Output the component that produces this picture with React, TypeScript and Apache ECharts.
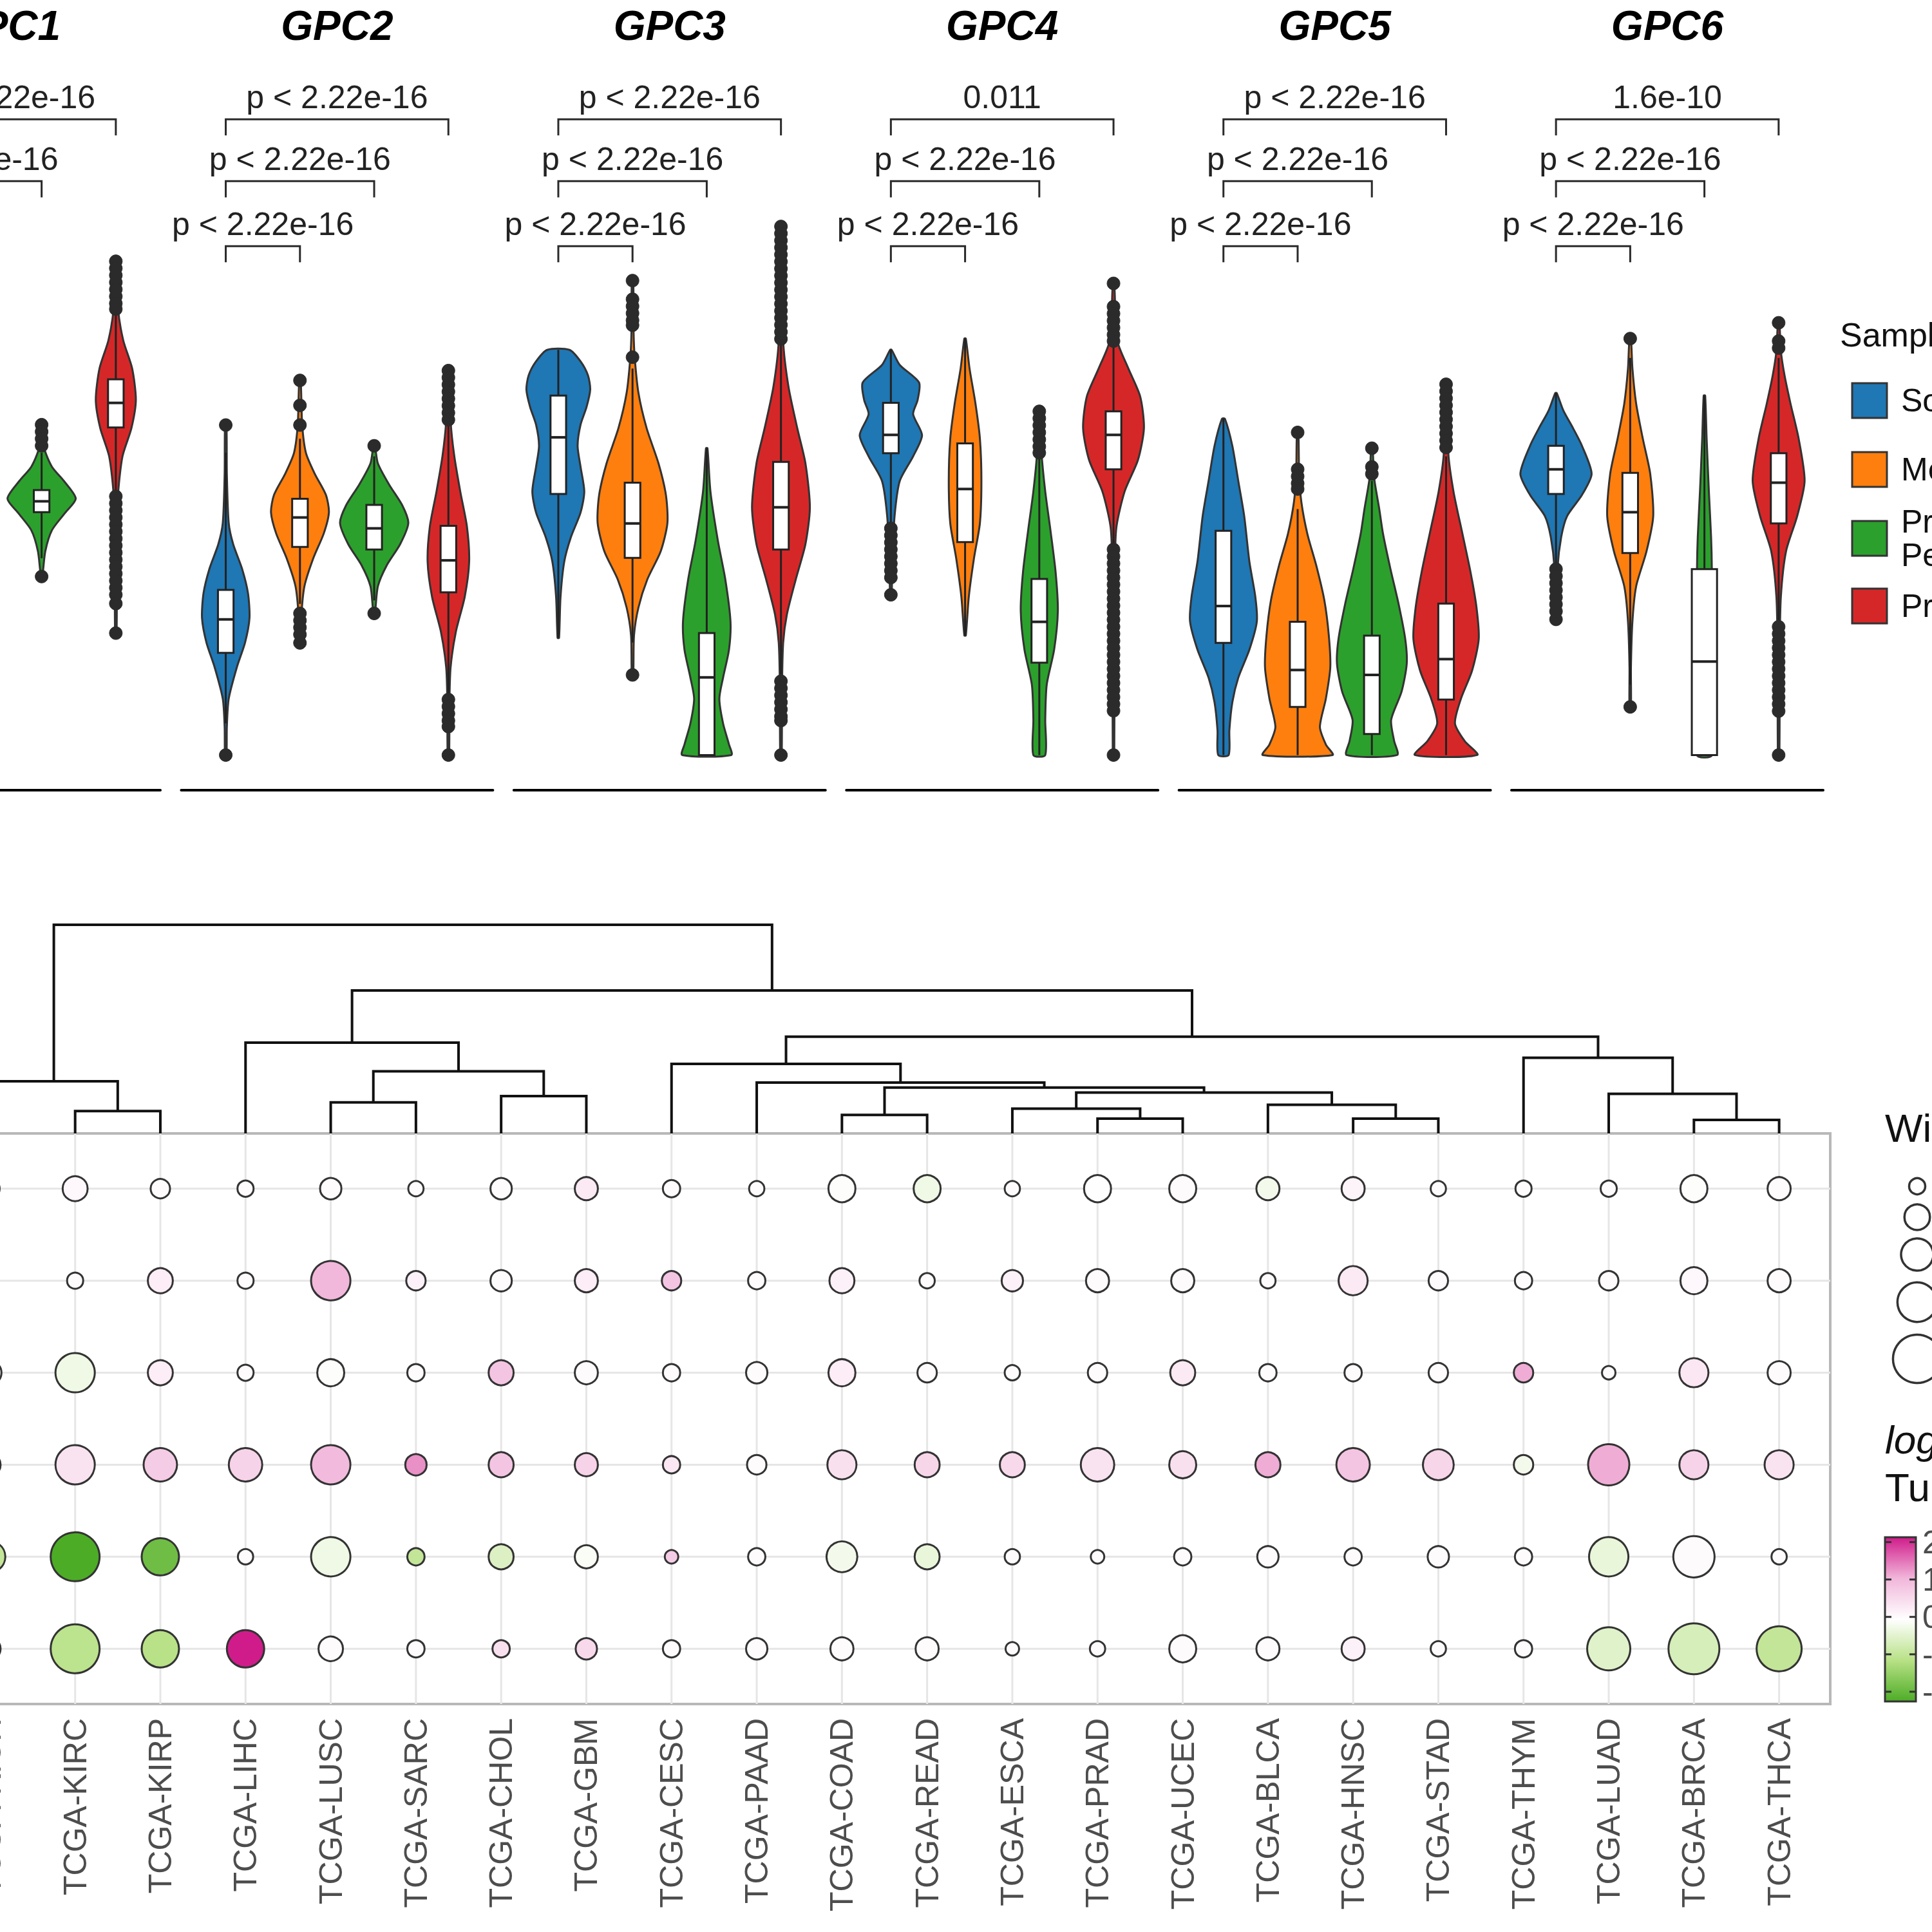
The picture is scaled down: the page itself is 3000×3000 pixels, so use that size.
import React, { useEffect, useRef } from 'react';
import * as echarts from 'echarts';

const FONT = '"Liberation Sans", Arial, Helvetica, sans-serif';

// ---------------- Violin panel data ----------------
const GENES = ['GPC1', 'GPC2', 'GPC3', 'GPC4', 'GPC5', 'GPC6'];
const SAMPLE_TYPES = ['Solid Tissue Normal', 'Metastatic', 'Primary Blood Derived Cancer -\nPeripheral Blood', 'Primary Tumor'];
const SAMPLE_COLORS = ['#1F77B4', '#FF7F0E', '#2CA02C', '#D62728'];

// density profiles: [expression, half width] from max to min, one per sample type
const GPC1_DENSITY = [
  [[9.5, 0.01], [8.8, 0.06], [8.0, 0.2], [7.2, 0.33], [6.4, 0.38], [5.6, 0.3], [4.8, 0.14], [4.0, 0.05], [3.0, 0.01]],
  [[10.5, 0.01], [9.8, 0.04], [9.0, 0.14], [8.2, 0.28], [7.6, 0.3], [6.8, 0.2], [6.0, 0.08], [5.0, 0.01]],
  [[9.4, 0.01], [8.7, 0.04], [8.2, 0.14], [7.8, 0.3], [7.3, 0.46], [6.9, 0.32], [6.4, 0.14], [5.8, 0.05], [5.1, 0.01]],
  [[14.05, 0.01], [12.7, 0.03], [11.8, 0.1], [11.0, 0.22], [10.1, 0.27], [9.3, 0.21], [8.5, 0.09], [7.4, 0.03], [5.5, 0.015], [3.47, 0.01]],
];
const GPC2_DENSITY = [
  [[9.39, 0.01], [8.0, 0.015], [6.6, 0.04], [6.0, 0.1], [5.3, 0.22], [4.6, 0.3], [3.9, 0.32], [3.2, 0.26], [2.5, 0.15], [1.6, 0.04], [0.8, 0.015], [0, 0.01]],
  [[10.66, 0.01], [9.4, 0.03], [8.6, 0.08], [8.0, 0.2], [7.4, 0.35], [6.9, 0.39], [6.3, 0.32], [5.6, 0.18], [4.8, 0.06], [4.0, 0.02], [3.19, 0.01]],
  [[8.8, 0.01], [8.3, 0.05], [7.7, 0.2], [7.1, 0.38], [6.6, 0.46], [6.0, 0.35], [5.4, 0.17], [4.8, 0.05], [4.03, 0.01]],
  [[10.94, 0.01], [9.5, 0.03], [8.5, 0.08], [7.5, 0.16], [6.5, 0.25], [5.5, 0.28], [4.5, 0.22], [3.5, 0.1], [2.5, 0.03], [1.6, 0.015], [0, 0.01]],
];
const GPC3_DENSITY = [
  [[11.53, 0.15], [11.2, 0.3], [10.8, 0.4], [10.4, 0.43], [9.9, 0.38], [9.4, 0.3], [8.8, 0.26], [8.2, 0.3], [7.5, 0.35], [6.9, 0.3], [6.2, 0.17], [5.5, 0.08], [4.5, 0.03], [3.33, 0.01]],
  [[13.5, 0.01], [12.0, 0.015], [11.3, 0.03], [10.3, 0.08], [9.3, 0.19], [8.3, 0.35], [7.4, 0.45], [6.6, 0.47], [5.8, 0.38], [5.0, 0.2], [4.2, 0.08], [3.4, 0.02], [2.28, 0.01]],
  [[8.73, 0.01], [7.5, 0.05], [6.1, 0.15], [5.0, 0.25], [3.8, 0.32], [3.0, 0.3], [2.2, 0.22], [1.6, 0.17], [0.9, 0.22], [0.3, 0.3], [0, 0.33]],
  [[15.04, 0.01], [11.8, 0.03], [10.5, 0.1], [9.3, 0.22], [8.3, 0.33], [7.05, 0.39], [6.0, 0.33], [5.0, 0.2], [4.0, 0.08], [3.2, 0.03], [2.0, 0.015], [0, 0.01]],
];
const GPC4_DENSITY = [
  [[11.53, 0.01], [11.1, 0.12], [10.6, 0.38], [10.1, 0.36], [9.7, 0.3], [9.1, 0.42], [8.5, 0.3], [7.8, 0.12], [6.8, 0.05], [5.5, 0.02], [4.56, 0.01]],
  [[11.85, 0.01], [11.0, 0.06], [10.0, 0.14], [9.0, 0.2], [7.8, 0.22], [6.6, 0.2], [5.6, 0.12], [4.5, 0.05], [3.4, 0.01]],
  [[9.78, 0.01], [8.6, 0.03], [7.5, 0.08], [6.4, 0.15], [5.2, 0.22], [4.1, 0.25], [3.0, 0.2], [2.0, 0.1], [1.0, 0.08], [0, 0.08]],
  [[13.42, 0.01], [11.8, 0.05], [11.0, 0.2], [10.2, 0.36], [9.3, 0.41], [8.4, 0.33], [7.5, 0.15], [6.5, 0.04], [5.5, 0.02], [0, 0.01]],
];
const GPC5_DENSITY = [
  [[9.57, 0.02], [8.8, 0.12], [7.8, 0.2], [6.8, 0.28], [5.5, 0.35], [4.5, 0.43], [3.8, 0.45], [3.0, 0.35], [2.2, 0.2], [1.5, 0.12], [0.7, 0.08], [0, 0.07]],
  [[9.18, 0.01], [8.0, 0.02], [7.2, 0.05], [6.3, 0.13], [5.4, 0.25], [4.4, 0.36], [3.4, 0.42], [2.5, 0.44], [1.6, 0.38], [0.8, 0.3], [0.3, 0.38], [0, 0.47]],
  [[8.73, 0.01], [7.9, 0.03], [7.0, 0.1], [6.3, 0.15], [5.3, 0.25], [4.3, 0.36], [3.3, 0.45], [2.6, 0.47], [1.8, 0.4], [1.0, 0.26], [0.4, 0.3], [0, 0.34]],
  [[10.55, 0.01], [8.6, 0.03], [7.5, 0.1], [6.3, 0.22], [5.2, 0.33], [4.2, 0.41], [3.3, 0.44], [2.4, 0.35], [1.6, 0.2], [0.9, 0.12], [0.4, 0.25], [0, 0.42]],
];
const GPC6_DENSITY = [
  [[10.3, 0.01], [9.8, 0.1], [9.3, 0.23], [8.8, 0.35], [8.0, 0.48], [7.4, 0.35], [6.8, 0.15], [6.2, 0.07], [5.3, 0.02], [3.86, 0.01]],
  [[11.85, 0.01], [11.0, 0.03], [10.0, 0.08], [9.0, 0.17], [8.0, 0.27], [6.8, 0.31], [5.8, 0.22], [4.8, 0.08], [3.8, 0.03], [2.5, 0.01], [1.37, 0.01]],
  [[10.23, 0.01], [9.0, 0.03], [7.5, 0.06], [6.2, 0.09], [5.29, 0.1], [3.0, 0.1], [0, 0.1]],
  [[12.3, 0.01], [11.5, 0.03], [10.8, 0.08], [10.0, 0.16], [9.0, 0.27], [7.8, 0.35], [6.8, 0.25], [5.8, 0.1], [4.5, 0.03], [3.0, 0.015], [0, 0.01]],
];

// boxplot stats: [lower whisker, q1, median, q3, upper whisker]
const GPC1_BOX = [[4.2, 5.8, 6.4, 7.0, 8.8], [6.0, 7.2, 7.8, 8.4, 9.8], [5.6, 6.91, 7.22, 7.54, 8.6], [7.4, 9.32, 10.02, 10.69, 12.7]];
const GPC2_BOX = [[0.9, 2.91, 3.86, 4.7, 8.6], [4.3, 5.92, 6.76, 7.29, 9.0], [4.4, 5.85, 6.45, 7.12, 8.5], [1.7, 4.63, 5.54, 6.52, 9.4]];
const GPC3_BOX = [[3.33, 7.43, 9.04, 10.23, 11.53], [3.2, 5.61, 6.59, 7.75, 11.0], [0, 0, 2.21, 3.47, 8.73], [2.3, 5.85, 7.05, 8.34, 11.7]];
const GPC4_BOX = [[6.6, 8.59, 9.11, 10.02, 11.53], [3.4, 6.06, 7.57, 8.87, 11.85], [0, 2.63, 3.79, 5.01, 8.5], [6.0, 8.13, 9.11, 9.78, 11.7]];
const GPC5_BOX = [[0, 3.19, 4.24, 6.38, 9.57], [0, 1.37, 2.42, 3.79, 7.0], [0, 0.6, 2.28, 3.4, 7.8], [0, 1.58, 2.73, 4.31, 8.5]];
const GPC6_BOX = [[5.4, 7.43, 8.13, 8.8, 10.3], [2.0, 5.75, 6.91, 8.03, 11.3], [0, 0, 2.66, 5.29, 10.23], [3.8, 6.59, 7.75, 8.59, 11.3]];

const GPC1_OUT = [
  [9.2, 9.5, 3.5, 3.0],
  [10.2, 10.5, 5.3, 5.0],
  [9.4, 9.2, 9.0, 8.8, 5.08],
  [14.05, 13.85, 13.65, 13.45, 13.25, 13.05, 12.85, 12.69, 7.36, 7.16, 6.96, 6.76, 6.56, 6.36, 6.16, 5.96, 5.76, 5.56, 5.36, 5.16, 4.96, 4.76, 4.56, 4.31, 3.47],
];
const GPC2_OUT = [
  [9.39, 0],
  [10.66, 9.95, 9.39, 4.03, 3.83, 3.63, 3.43, 3.19],
  [8.8, 4.03],
  [10.94, 10.74, 10.54, 10.34, 10.14, 9.94, 9.74, 9.54, 1.58, 1.38, 1.18, 0.98, 0.81, 0],
];
const GPC3_OUT = [
  [],
  [13.5, 12.97, 12.77, 12.57, 12.37, 12.23, 11.32, 2.28],
  [],
  [15.04, 14.84, 14.64, 14.44, 14.24, 14.04, 13.84, 13.64, 13.44, 13.24, 13.04, 12.84, 12.64, 12.44, 12.24, 12.04, 11.84, 2.1, 1.9, 1.7, 1.5, 1.3, 1.1, 0.98, 0],
];
const GPC4_OUT = [
  [6.45, 6.25, 6.05, 5.85, 5.65, 5.45, 5.25, 5.05, 4.56],
  [],
  [9.78, 9.58, 9.38, 9.18, 8.98, 8.78, 8.6],
  [13.42, 12.76, 12.56, 12.36, 12.16, 11.96, 11.78, 5.85, 5.65, 5.45, 5.25, 5.05, 4.85, 4.65, 4.45, 4.25, 4.05, 3.85, 3.65, 3.45, 3.25, 3.05, 2.85, 2.65, 2.45, 2.25, 2.05, 1.85, 1.65, 1.45, 1.26, 0],
];
const GPC5_OUT = [
  [],
  [9.18, 8.13, 7.93, 7.73, 7.57],
  [8.73, 8.2, 8.0],
  [10.55, 10.35, 10.15, 9.95, 9.75, 9.55, 9.35, 9.15, 8.95, 8.75],
];
const GPC6_OUT = [
  [5.29, 5.09, 4.89, 4.69, 4.49, 4.29, 4.09, 3.86],
  [11.85, 1.37],
  [],
  [12.3, 11.78, 11.58, 3.65, 3.45, 3.25, 3.05, 2.85, 2.65, 2.45, 2.25, 2.05, 1.85, 1.65, 1.45, 1.25, 0],
];

const DENSITY = [GPC1_DENSITY, GPC2_DENSITY, GPC3_DENSITY, GPC4_DENSITY, GPC5_DENSITY, GPC6_DENSITY];
const BOXES = [GPC1_BOX, GPC2_BOX, GPC3_BOX, GPC4_BOX, GPC5_BOX, GPC6_BOX];
const OUTLIERS = [GPC1_OUT, GPC2_OUT, GPC3_OUT, GPC4_OUT, GPC5_OUT, GPC6_OUT];

// comparisons (Solid Tissue Normal vs others), bracket heights and p labels
const BRACKET_PAIRS = [[1, 2], [1, 3], [1, 4]];
const BRACKET_Y = [14.48, 16.33, 18.09];
const P_GPC1 = ['0.0021', 'p < 2.22e-16', 'p < 2.22e-16'];
const P_GPC2 = ['p < 2.22e-16', 'p < 2.22e-16', 'p < 2.22e-16'];
const P_GPC3 = ['p < 2.22e-16', 'p < 2.22e-16', 'p < 2.22e-16'];
const P_GPC4 = ['p < 2.22e-16', 'p < 2.22e-16', '0.011'];
const P_GPC5 = ['p < 2.22e-16', 'p < 2.22e-16', 'p < 2.22e-16'];
const P_GPC6 = ['p < 2.22e-16', 'p < 2.22e-16', '1.6e-10'];
const P_LABELS = [P_GPC1, P_GPC2, P_GPC3, P_GPC4, P_GPC5, P_GPC6];

// ---------------- Dot plot data ----------------
const CANCERS = ['TCGA-KICH', 'TCGA-KIRC', 'TCGA-KIRP', 'TCGA-LIHC', 'TCGA-LUSC', 'TCGA-SARC', 'TCGA-CHOL', 'TCGA-GBM', 'TCGA-CESC', 'TCGA-PAAD', 'TCGA-COAD', 'TCGA-READ', 'TCGA-ESCA', 'TCGA-PRAD', 'TCGA-UCEC', 'TCGA-BLCA', 'TCGA-HNSC', 'TCGA-STAD', 'TCGA-THYM', 'TCGA-LUAD', 'TCGA-BRCA', 'TCGA-THCA'];
const DOT_GENES = ['GPC6', 'GPC2', 'GPC4', 'GPC1', 'GPC5', 'GPC3'];

// Wilcoxon -log10(p) per cancer
const SIG_GPC6 = [29, 48, 29, 20, 35, 18, 35, 41, 23, 18, 56, 56, 18, 56, 56, 41, 41, 18, 20, 20, 56, 41];
const SIG_GPC2 = [18, 20, 48, 20, 119, 29, 35, 41, 29, 23, 48, 18, 35, 41, 41, 18, 65, 29, 23, 29, 56, 41];
const SIG_GPC4 = [41, 119, 48, 20, 56, 23, 48, 41, 23, 35, 56, 29, 18, 29, 48, 23, 23, 29, 29, 14, 65, 41];
const SIG_GPC1 = [35, 119, 86, 86, 119, 35, 48, 41, 23, 29, 65, 48, 48, 86, 56, 48, 86, 73, 29, 131, 65, 65];
const SIG_GPC5 = [73, 184, 107, 18, 119, 23, 48, 41, 14, 23, 73, 48, 18, 14, 23, 35, 23, 35, 23, 119, 131, 18];
const SIG_GPC3 = [35, 184, 107, 107, 46, 23, 23, 35, 23, 35, 41, 41, 14, 18, 56, 41, 41, 18, 23, 143, 199, 156];
// log2 fold change tumour vs normal
const FC_GPC6 = [0, 0.05, 0, 0, 0, 0, 0, 0.25, 0, 0, -0.1, -0.3, 0, -0.05, 0, -0.25, 0.1, 0, 0, 0, -0.1, 0];
const FC_GPC2 = [0, 0, 0.2, 0, 1.0, 0.15, 0, 0.2, 0.8, 0, 0.15, 0, 0.15, 0, 0, 0, 0.25, 0, 0, 0, 0.05, 0];
const FC_GPC4 = [-0.1, -0.3, 0.2, 0, -0.1, 0, 0.8, 0, 0, 0, 0.2, 0, 0, 0, 0.25, 0, 0, 0, 1.1, 0, 0.3, 0];
const FC_GPC1 = [0.5, 0.35, 0.7, 0.6, 0.95, 1.3, 0.8, 0.6, 0.3, 0, 0.4, 0.55, 0.5, 0.35, 0.4, 1.1, 0.8, 0.55, -0.25, 1.1, 0.6, 0.35];
const FC_GPC5 = [-1.0, -2.26, -1.9, 0, -0.3, -1.0, -0.6, -0.15, 0.7, 0, -0.25, -0.4, 0, 0, 0, 0, 0, 0, 0, -0.4, 0, 0];
const FC_GPC3 = [-0.3, -1.1, -1.15, 2.13, 0, 0, 0.4, 0.5, 0, 0, 0, 0, 0, 0, 0, 0, 0.15, 0, 0, -0.55, -0.7, -1.0];
const SIG_ROWS = [SIG_GPC6, SIG_GPC2, SIG_GPC4, SIG_GPC1, SIG_GPC5, SIG_GPC3];
const FC_ROWS = [FC_GPC6, FC_GPC2, FC_GPC4, FC_GPC1, FC_GPC5, FC_GPC3];

const FC_MIN = -2.26;
const FC_MAX = 2.13;
const FC_COLORS = ['#4DAC26', '#B8E186', '#FFFFFF', '#F1B6DA', '#D01C8B'];
const FC_BREAKS = [2, 1, 0, -1, -2];
const SIZE_BREAKS = [20, 50, 80, 120, 180];

// hierarchical clustering of cancers: [left, right, height]; numbers refer to earlier merges
const DENDRO_MERGES: [string | number, string | number, number][] = [
  ['TCGA-KIRC', 'TCGA-KIRP', 1.07],
  ['TCGA-KICH', 0, 2.5],
  ['TCGA-LUSC', 'TCGA-SARC', 1.49],
  ['TCGA-CHOL', 'TCGA-GBM', 1.79],
  [2, 3, 2.98],
  ['TCGA-LIHC', 4, 4.35],
  ['TCGA-COAD', 'TCGA-READ', 0.89],
  ['TCGA-PRAD', 'TCGA-UCEC', 0.71],
  ['TCGA-ESCA', 7, 1.19],
  ['TCGA-HNSC', 'TCGA-STAD', 0.71],
  ['TCGA-BLCA', 9, 1.37],
  [8, 10, 1.96],
  [6, 11, 2.2],
  ['TCGA-PAAD', 12, 2.44],
  ['TCGA-CESC', 13, 3.33],
  ['TCGA-BRCA', 'TCGA-THCA', 0.65],
  ['TCGA-LUAD', 15, 1.9],
  ['TCGA-THYM', 16, 3.63],
  [14, 17, 4.64],
  [5, 18, 6.85],
  [1, 19, 10.0],
];

// ---------------- Layout ----------------
const OFF = 300;
const CANVAS_W = 3700;
const FACET_LEFT0 = 65;
const FACET_STEP = 516.4;
const FACET_W = 484;
const FACET_TOP = 81;
const FACET_H = 1146;
const DOT_LEFT = 205;
const DOT_W = 2937;

const sizeOf = (s: number) => 5.6 * Math.sqrt(s);

function dendroLines() {
  const pos: { x: number; h: number }[] = [];
  const get = (c: string | number) => (typeof c === 'number' ? pos[c] : { x: CANCERS.indexOf(c), h: 0 });
  return DENDRO_MERGES.map(([a, b, h], i) => {
    const A = get(a);
    const B = get(b);
    pos[i] = { x: (A.x + B.x) / 2, h };
    return { coords: [[A.x, A.h], [A.x, h], [B.x, h], [B.x, B.h]] };
  });
}

function violinRender(g: number) {
  return (params: any, api: any) => {
    const t = params.dataIndex;
    const cx = t + 1;
    const prof = DENSITY[g][t];
    const pts: number[][] = [];
    prof.forEach(([v, w]) => pts.push(api.coord([cx + w, v])));
    for (let k = prof.length - 1; k >= 0; k--) {
      const [v, w] = prof[k];
      pts.push(api.coord([cx - w, v]));
    }
    const [lo, q1, med, q3, hi] = BOXES[g][t];
    const bw = g === 5 && t === 2 ? 0.17 : 0.105;
    const tl = api.coord([cx - bw, q3]);
    const br = api.coord([cx + bw, q1]);
    const top = api.coord([cx, hi]);
    const bot = api.coord([cx, lo]);
    const m1 = api.coord([cx - bw, med]);
    const m2 = api.coord([cx + bw, med]);
    const children: any[] = [
      { type: 'polygon', shape: { points: pts, smooth: 0.25 }, style: { fill: SAMPLE_COLORS[t], stroke: '#333', lineWidth: 3 } },
      { type: 'line', shape: { x1: top[0], y1: top[1], x2: bot[0], y2: bot[1] }, style: { stroke: '#222', lineWidth: 3 } },
      { type: 'rect', shape: { x: tl[0], y: tl[1], width: br[0] - tl[0], height: br[1] - tl[1] }, style: { fill: '#fff', stroke: '#222', lineWidth: 3 } },
      { type: 'line', shape: { x1: m1[0], y1: m1[1], x2: m2[0], y2: m2[1] }, style: { stroke: '#222', lineWidth: 4 } },
    ];
    OUTLIERS[g][t].forEach((v) => {
      const p = api.coord([cx, v]);
      children.push({ type: 'circle', shape: { cx: p[0], cy: p[1], r: 10 }, style: { fill: '#2b2b2b', stroke: '#2b2b2b', lineWidth: 1 } });
    });
    return { type: 'group', children };
  };
}

function bracketRender(g: number) {
  return (params: any, api: any) => {
    const i = params.dataIndex;
    const [a, b] = BRACKET_PAIRS[i];
    const y = BRACKET_Y[i];
    const p1 = api.coord([a, y - 0.46]);
    const p2 = api.coord([a, y]);
    const p3 = api.coord([b, y]);
    const p4 = api.coord([b, y - 0.46]);
    const lab = api.coord([(a + b) / 2, y + 0.62]);
    return {
      type: 'group',
      children: [
        { type: 'polyline', shape: { points: [p1, p2, p3, p4] }, style: { stroke: '#2a2a2a', lineWidth: 3, fill: 'none' } },
        { type: 'text', x: lab[0], y: lab[1], style: { text: P_LABELS[g][i], fontSize: 50, fontFamily: FONT, fill: '#222', align: 'center', verticalAlign: 'middle' } },
      ],
    };
  };
}

function gridLinesRender(params: any, api: any) {
  const children: any[] = [];
  CANCERS.forEach((_, i) => {
    const a = api.coord([i, -0.6]);
    const b = api.coord([i, DOT_GENES.length - 0.4]);
    children.push({ type: 'line', shape: { x1: a[0], y1: a[1], x2: b[0], y2: b[1] }, style: { stroke: '#e6e6e6', lineWidth: 3 } });
  });
  DOT_GENES.forEach((_, j) => {
    const a = api.coord([-0.6, j]);
    const b = api.coord([CANCERS.length - 0.4, j]);
    children.push({ type: 'line', shape: { x1: a[0], y1: a[1], x2: b[0], y2: b[1] }, style: { stroke: '#e6e6e6', lineWidth: 3 } });
  });
  return { type: 'group', children };
}

function buildOption(): any {
  const grid: any[] = [
    ...GENES.map((_, i) => ({ left: FACET_LEFT0 + FACET_STEP * i, top: FACET_TOP, width: FACET_W, height: FACET_H })),
    { left: DOT_LEFT, top: 1436, width: DOT_W, height: 324 },
    { left: DOT_LEFT, top: 1760, width: DOT_W, height: 886, show: true, borderColor: '#b8b8b8', borderWidth: 4, backgroundColor: 'rgba(0,0,0,0)' },
  ];
  const xAxis: any[] = [
    ...GENES.map((_, i) => ({
      gridIndex: i, type: 'value', min: 0.4, max: 4.6,
      axisLine: { show: true, onZero: false, lineStyle: { color: '#000', width: 4 } },
      axisTick: { show: false }, axisLabel: { show: false }, splitLine: { show: false },
    })),
    { gridIndex: 6, type: 'value', min: -0.6, max: CANCERS.length - 0.4, show: false },
    {
      gridIndex: 7, type: 'value', min: -0.6, max: CANCERS.length - 0.4,
      axisLine: { show: false }, axisTick: { show: false }, splitLine: { show: false },
      axisLabel: {
        show: true, customValues: CANCERS.map((_, i) => i),
        formatter: (v: number) => CANCERS[Math.round(v)] ?? '',
        rotate: 90, fontSize: 50, color: '#4d4d4d', margin: 22, fontFamily: FONT,
      },
    },
  ];
  const yAxis: any[] = [
    ...GENES.map((_, i) => ({
      gridIndex: i, type: 'value', min: -1, max: 20, show: i === 0,
      axisLine: { show: true, onZero: false, lineStyle: { color: '#000', width: 4 } },
      axisTick: { show: true, lineStyle: { color: '#000', width: 3 } },
      axisLabel: { fontSize: 48, color: '#000', fontFamily: FONT }, splitLine: { show: false },
    })),
    { gridIndex: 6, type: 'value', min: 0, max: 10, show: false },
    {
      gridIndex: 7, type: 'value', min: -0.6, max: DOT_GENES.length - 0.4, inverse: true,
      axisLine: { show: false }, axisTick: { show: false }, splitLine: { show: false },
      axisLabel: {
        show: true, customValues: DOT_GENES.map((_, i) => i),
        formatter: (v: number) => DOT_GENES[Math.round(v)] ?? '',
        fontSize: 50, color: '#4d4d4d', fontStyle: 'italic', fontFamily: FONT,
      },
    },
  ];

  const violinSeries = GENES.map((_, g) => ({
    type: 'custom', xAxisIndex: g, yAxisIndex: g, renderItem: violinRender(g),
    data: SAMPLE_TYPES.map((_, t) => [t + 1, BOXES[g][t][2]]), z: 2, silent: true,
  }));
  const bracketSeries = GENES.map((_, g) => ({
    type: 'custom', xAxisIndex: g, yAxisIndex: g, renderItem: bracketRender(g),
    data: BRACKET_PAIRS.map((p, i) => [p[0], BRACKET_Y[i]]), z: 3, silent: true,
  }));
  const dendro = {
    type: 'lines', coordinateSystem: 'cartesian2d', xAxisIndex: 6, yAxisIndex: 6, polyline: true,
    data: dendroLines(), lineStyle: { color: '#111', width: 4, opacity: 1 }, silent: true,
  };
  const gridLines = {
    type: 'custom', xAxisIndex: 7, yAxisIndex: 7, renderItem: gridLinesRender, data: [[0, 0]], z: 1, silent: true,
  };
  const dotData: number[][] = [];
  DOT_GENES.forEach((_, r) => CANCERS.forEach((_, c) => dotData.push([c, r, SIG_ROWS[r][c], FC_ROWS[r][c]])));
  const dots = {
    type: 'scatter', xAxisIndex: 7, yAxisIndex: 7, data: dotData,
    symbolSize: (v: number[]) => sizeOf(v[2]),
    itemStyle: { borderColor: '#333', borderWidth: 3, opacity: 1 }, z: 5, silent: true,
  };

  // ---------- legends & facet titles (graphic) ----------
  const g: any[] = [];
  GENES.forEach((name, i) => {
    g.push({ type: 'text', x: FACET_LEFT0 + FACET_STEP * i + FACET_W / 2, y: 40, style: { text: name, fontSize: 64, fontWeight: 'bold', fontStyle: 'italic', fontFamily: FONT, fill: '#000', align: 'center', verticalAlign: 'middle' } });
  });
  const LX = 2857 + OFF;
  g.push({ type: 'text', x: LX, y: 520, style: { text: 'Sample Type', fontSize: 52, fontFamily: FONT, fill: '#111', align: 'left', verticalAlign: 'middle' } });
  const keyY = [622, 729, 836, 941];
  SAMPLE_TYPES.forEach((name, i) => {
    g.push({ type: 'rect', shape: { x: 2876 + OFF, y: keyY[i] - 27, width: 54, height: 54 }, style: { fill: SAMPLE_COLORS[i], stroke: '#333', lineWidth: 3 } });
    g.push({ type: 'text', x: 2952 + OFF, y: keyY[i], style: { text: name, fontSize: 50, lineHeight: 52, fontFamily: FONT, fill: '#111', align: 'left', verticalAlign: 'middle' } });
  });
  const BX = 2927 + OFF;
  g.push({ type: 'text', x: BX, y: 1751, style: { text: 'Wilcoxon -log10(p)', fontSize: 62, fontFamily: FONT, fill: '#111', align: 'left', verticalAlign: 'middle' } });
  const sizeY = [1842, 1890, 1948, 2022, 2110];
  SIZE_BREAKS.forEach((b, i) => {
    g.push({ type: 'circle', shape: { cx: 2977 + OFF, cy: sizeY[i], r: sizeOf(b) / 2 }, style: { fill: '#fff', stroke: '#333', lineWidth: 3.5 } });
    g.push({ type: 'text', x: 3030 + OFF, y: sizeY[i], style: { text: String(b), fontSize: 38, fontFamily: FONT, fill: '#4d4d4d', align: 'left', verticalAlign: 'middle' } });
  });
  g.push({ type: 'text', x: BX, y: 2235, style: { text: 'log2 FC', fontSize: 62, fontStyle: 'italic', fontFamily: FONT, fill: '#111', align: 'left', verticalAlign: 'middle' } });
  g.push({ type: 'text', x: BX, y: 2309, style: { text: 'Tumor vs Normal', fontSize: 62, fontFamily: FONT, fill: '#111', align: 'left', verticalAlign: 'middle' } });
  const CB_TOP = 2387, CB_H = 255, CB_W = 48;
  const stops = FC_COLORS.map((c, i) => ({ offset: 1 - i / (FC_COLORS.length - 1), color: c }));
  g.push({ type: 'rect', shape: { x: BX, y: CB_TOP, width: CB_W, height: CB_H }, style: { fill: { type: 'linear', x: 0, y: 0, x2: 0, y2: 1, colorStops: stops.reverse() }, stroke: '#333', lineWidth: 3 } });
  FC_BREAKS.forEach((v) => {
    const y = CB_TOP + ((FC_MAX - v) / (FC_MAX - FC_MIN)) * CB_H;
    g.push({ type: 'line', shape: { x1: BX, y1: y, x2: BX + 10, y2: y }, style: { stroke: '#333', lineWidth: 3 } });
    g.push({ type: 'line', shape: { x1: BX + CB_W - 10, y1: y, x2: BX + CB_W, y2: y }, style: { stroke: '#333', lineWidth: 3 } });
    g.push({ type: 'text', x: BX + CB_W + 10, y, style: { text: String(v), fontSize: 50, fontFamily: FONT, fill: '#4d4d4d', align: 'left', verticalAlign: 'middle' } });
  });

  return {
    animation: false,
    backgroundColor: '#fff',
    textStyle: { fontFamily: FONT },
    grid, xAxis, yAxis,
    visualMap: [{ type: 'continuous', show: false, min: FC_MIN, max: FC_MAX, dimension: 3, seriesIndex: 14, inRange: { color: FC_COLORS } }],
    series: [...violinSeries, ...bracketSeries, dendro, gridLines, dots],
    graphic: g,
  };
}

export default function App() {
  const ref = useRef<HTMLDivElement>(null);
  useEffect(() => {
    if (!ref.current) return;
    const chart = echarts.init(ref.current, null, { renderer: 'svg' });
    chart.setOption(buildOption());
    return () => chart.dispose();
  }, []);
  return (
    <div style={{ position: 'fixed', left: 0, top: 0, width: 3000, height: 3000, overflow: 'hidden', background: '#fff' }}>
      <div ref={ref} style={{ position: 'absolute', left: -OFF, top: 0, width: CANVAS_W, height: 3000 }} />
    </div>
  );
}
